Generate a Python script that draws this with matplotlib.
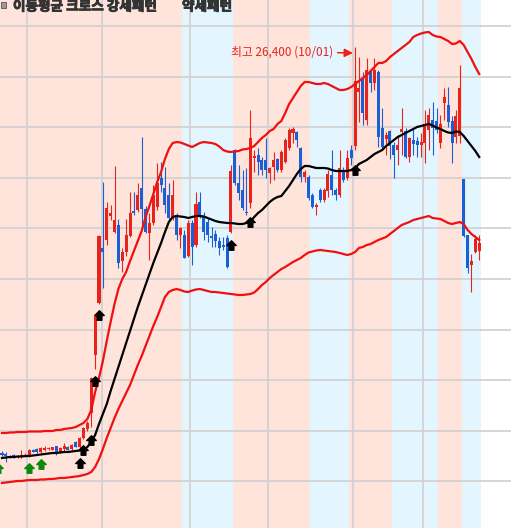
# =========================================================
# MOVING AVERAGE CROSS / BOLLINGER CANDLE CHART
# =========================================================

import numpy as np
import matplotlib
matplotlib.use("Agg")
import matplotlib.pyplot as plt
import matplotlib.patheffects as pe
from matplotlib.path import Path
from matplotlib.patches import Rectangle

plt.rcParams['font.family'] = ['Noto Sans CJK KR', 'DejaVu Sans']

# =========================================================
# DATA (daily candles, won)
# =========================================================

opens = [
    10180, 10120, 10060, 10080, 10000, 10020, 10040, 10040, 10300, 10340,
    10200, 10300, 10320, 10300, 10440, 10180, 10320, 10420, 10340, 10620,
    10400, 10760, 11120, 11760, 14080, 16160, 18360, 18680, 19640, 19000,
    19280, 17840, 18200, 18840, 19840, 19880, 20760, 19920, 18960, 19360,
    20000, 21160, 20760, 20480, 19600, 19680, 18880, 18880, 18040, 19360,
    18480, 20200, 19600, 19400, 18840, 18920, 18640, 18480, 18760, 19000,
    22280, 20960, 20680, 19800, 20160, 21960, 22080, 21880, 21880, 21360,
    21600, 21920, 21480, 21800, 22360, 22960, 23000, 22360, 21200, 21200,
    20480, 20000, 20680, 20280, 20640, 21280, 20680, 20480, 21440, 21160,
    22280, 22440, 24600, 25120, 23480, 25440, 24960, 25400, 23160, 22720,
    23040, 22480, 22280, 23000, 23040, 22000, 22680, 22640, 22480, 22560,
    23080, 23480, 23440, 22560, 24160, 24080, 23440, 22800, 22840, 21120,
    18880, 17680, 18200, 18240,
]

closes = [
    10100, 10040, 9980, 10000, 10040, 10080, 10100, 10280, 10220, 10200,
    10360, 10360, 10360, 10400, 10180, 10380, 10440, 10300, 10480, 10420,
    10780, 11180, 11380, 13160, 15640, 18840, 18200, 19960, 19760, 19480,
    17760, 18200, 18880, 19760, 19760, 20480, 19920, 19000, 19360, 20480,
    20960, 20880, 20080, 19560, 20480, 18880, 19160, 17960, 19360, 18400,
    20120, 19600, 19000, 18880, 18760, 18640, 18360, 18400, 17600, 21440,
    20960, 20560, 19960, 19760, 22760, 22040, 21800, 21480, 21480, 21560,
    21880, 21480, 22200, 22680, 23080, 23120, 22680, 21200, 21400, 20360,
    20000, 20080, 20280, 20680, 21320, 20680, 20480, 21560, 21080, 21960,
    21960, 25040, 24760, 23760, 25480, 24960, 25480, 22800, 22400, 22880,
    22440, 22080, 22480, 23120, 22000, 22760, 22520, 22480, 22600, 23320,
    23680, 23160, 23080, 23320, 24400, 23400, 22560, 23640, 24760, 18840,
    17560, 17840, 18720, 18560,
]

highs = [
    10240, 10200, 10080, 10120, 10080, 10280, 10160, 10320, 10320, 10360,
    10420, 10460, 10400, 10420, 10460, 10400, 10580, 10440, 10520, 10640,
    10800, 11220, 11460, 13200, 15680, 18880, 21000, 20200, 20080, 21640,
    19520, 18360, 19520, 20600, 20600, 20960, 22800, 20040, 19760, 20880,
    21760, 21800, 21600, 20960, 21080, 19760, 19200, 19080, 19480, 19480,
    20600, 20600, 19800, 19560, 19200, 19080, 18800, 18800, 18880, 21680,
    22320, 21680, 21480, 21560, 23880, 22280, 22360, 22000, 22760, 21600,
    22200, 21960, 22280, 22760, 23160, 23200, 23040, 22400, 21480, 21280,
    20560, 20160, 20760, 20760, 21480, 22280, 20760, 22280, 21600, 22280,
    22480, 26400, 26000, 25400, 25960, 25480, 25960, 25480, 23960, 23000,
    23080, 22600, 22880, 23960, 23160, 22800, 23120, 22800, 22960, 23880,
    23960, 24200, 23960, 23680, 24760, 24800, 23640, 23880, 25680, 21120,
    18880, 18120, 18880, 18880,
]

lows = [
    10060, 9800, 9960, 9960, 9960, 9980, 10000, 10000, 10200, 10180,
    10160, 10260, 10300, 10280, 10080, 10160, 10260, 10280, 10300, 10400,
    10380, 10720, 11060, 11200, 13520, 16120, 16760, 18480, 19480, 18960,
    17560, 17400, 18040, 18800, 19680, 19800, 19200, 18960, 17880, 19280,
    19880, 20600, 19760, 19480, 19480, 18680, 18360, 17960, 18000, 17680,
    18400, 19560, 18680, 18600, 18400, 18400, 18080, 18280, 17560, 18960,
    20880, 20280, 19880, 19680, 19960, 21400, 21280, 21280, 21160, 20960,
    21080, 21400, 21400, 21760, 22280, 22560, 22400, 21000, 21000, 20280,
    19960, 19680, 20200, 20200, 20400, 20480, 20280, 20400, 21000, 21080,
    21680, 22280, 23400, 23280, 23280, 24600, 24680, 22400, 22280, 22080,
    21920, 21160, 21680, 22080, 21960, 21800, 22080, 22000, 22000, 21760,
    22280, 22080, 22960, 22360, 23480, 23200, 21760, 22560, 22560, 18800,
    17360, 16600, 18160, 17880,
]

# Bollinger band (upper / moving average / lower)
bb_upper = [
    10960, 10960, 10980, 10980, 11000, 11000, 11000, 11020, 11020, 11020,
    11020, 11040, 11040, 11040, 11080, 11080, 11120, 11140, 11160, 11200,
    11280, 11360, 11520, 11880, 12600, 13160, 13840, 14640, 15400, 16120,
    16720, 17120, 17400, 17840, 18240, 18640, 19040, 19600, 20040, 20520,
    21000, 21400, 21920, 22320, 22560, 22600, 22580, 22520, 22460, 22400,
    22480, 22560, 22600, 22580, 22560, 22520, 22420, 22280, 22220, 22200,
    22220, 22240, 22300, 22320, 22360, 22440, 22600, 22760, 22880, 23040,
    23120, 23320, 23440, 23760, 24120, 24360, 24600, 24840, 25000, 25000,
    24960, 24920, 24920, 24960, 24920, 24840, 24760, 24680, 24680, 24720,
    24800, 24920, 25040, 25160, 25280, 25440, 25600, 25760, 25760, 25840,
    26000, 26120, 26240, 26360, 26480, 26600, 26800, 26880, 26940, 26980,
    27000, 26880, 26820, 26800, 26720, 26640, 26520, 26540, 26640, 26480,
    26200, 25920, 25600, 25320,
]

bb_mid = [
    9960, 9980, 10000, 10000, 10020, 10020, 10040, 10040, 10060, 10080,
    10100, 10120, 10140, 10160, 10160, 10180, 10200, 10200, 10220, 10240,
    10260, 10300, 10400, 10600, 10880, 11320, 11720, 12120, 12640, 13120,
    13600, 14080, 14560, 15040, 15520, 16000, 16440, 16880, 17320, 17760,
    18160, 18560, 19000, 19400, 19600, 19640, 19620, 19600, 19560, 19600,
    19640, 19640, 19620, 19560, 19500, 19440, 19400, 19380, 19360, 19360,
    19340, 19320, 19320, 19360, 19400, 19600, 19760, 19880, 20040, 20200,
    20320, 20400, 20440, 20640, 20840, 21080, 21320, 21520, 21640, 21640,
    21600, 21560, 21560, 21560, 21540, 21480, 21440, 21440, 21440, 21440,
    21480, 21560, 21720, 21800, 21880, 22000, 22120, 22200, 22280, 22440,
    22560, 22680, 22800, 22880, 22960, 23040, 23120, 23200, 23240, 23280,
    23320, 23260, 23180, 23120, 23040, 22980, 22960, 23020, 23000, 22840,
    22640, 22440, 22240, 22000,
]

bb_lower = [
    8960, 8980, 9000, 9020, 9040, 9040, 9060, 9080, 9080, 9080,
    9100, 9100, 9120, 9120, 9140, 9160, 9160, 9180, 9200, 9220,
    9240, 9280, 9320, 9400, 9600, 9920, 10320, 10760, 11160, 11560,
    11920, 12240, 12560, 12880, 13280, 13680, 14040, 14440, 14840, 15240,
    15600, 16000, 16400, 16600, 16680, 16720, 16680, 16620, 16600, 16660,
    16700, 16720, 16680, 16640, 16600, 16600, 16580, 16560, 16540, 16520,
    16500, 16480, 16480, 16500, 16520, 16580, 16720, 16880, 17000, 17160,
    17280, 17400, 17520, 17600, 17700, 17800, 17880, 17960, 18080, 18180,
    18220, 18260, 18280, 18260, 18240, 18220, 18200, 18160, 18120, 18080,
    18120, 18200, 18360, 18400, 18480, 18520, 18600, 18680, 18740, 18800,
    18920, 19040, 19160, 19280, 19340, 19400, 19480, 19520, 19560, 19600,
    19640, 19560, 19540, 19520, 19440, 19360, 19320, 19360, 19400, 19320,
    19080, 18920, 18800, 18680,
]

# pattern zones (candle index edges) : bull = 강세, bear = 약세
zone_edges = [-1, 46.5, 59.5, 79.5, 89.5, 100.5, 112.5, 118.5, 123.5]
zone_kinds = ['bull', 'bear', 'bull', 'bear', 'bull', 'bear', 'bull', 'bear']

# moving average cross signals
cross_idx = [20, 21, 23, 24, 25, 59, 64, 91]
cross_val = [9770, 10280, 10680, 13040, 15680, 18480, 19400, 21480]
green_idx = [-1, 7, 10]
green_val = [9560, 9560, 9720]

# month boundaries and price grid
month_lines = [6.45, 25.65, 48.5, 68.55, 90.5, 108.5]
price_grid = [27240, 25216, 23192, 21168, 19144, 17120, 15096, 13072, 11048, 9024]

# =========================================================
# COLORS
# =========================================================

UP = '#E8231B'
DOWN = '#1C5FD4'
BAND = '#F01010'
PINK = '#FFE4DC'
SKY = '#E3F6FF'
GRID = '#D2D2D2'

# =========================================================
# FIGURE
# =========================================================

fig = plt.figure(figsize=(5.11, 5.28), dpi=100)
ax = fig.add_axes([0, 0, 1, 1])
ax.set_facecolor('white')

x = np.arange(len(opens))
o = np.array(opens)
c = np.array(closes)
h = np.array(highs)
l = np.array(lows)

# background zones
for k in range(len(zone_kinds)):
    ax.axvspan(zone_edges[k], zone_edges[k + 1],
               color=PINK if zone_kinds[k] == 'bull' else SKY,
               lw=0, zorder=0)

# grid
ax.set_xticks(month_lines)
ax.set_yticks(price_grid)
ax.grid(True, color=GRID, lw=1.3, zorder=1)
ax.set_axisbelow(True)
ax.tick_params(length=0, labelleft=False, labelbottom=False)
for s in ax.spines.values():
    s.set_visible(False)

# candles
up = c >= o
cols = np.where(up, UP, DOWN)
ax.vlines(x, l, h, colors=cols, lw=0.8, zorder=3)
body_lo = np.minimum(o, c)
body_h = np.maximum(np.abs(c - o), 40)
ax.bar(x, body_h, bottom=body_lo, width=0.78, color=cols, lw=0, zorder=3)

# bollinger bands
ax.plot(x, bb_upper, color=BAND, lw=1.6, zorder=4)
ax.plot(x, bb_lower, color=BAND, lw=1.6, zorder=4)
ax.plot(x, bb_mid, color='black', lw=1.6, zorder=4)

# signal arrows
arrow = Path([(0, 1), (1, 0), (0.5, 0), (0.5, -1), (-0.5, -1), (-0.5, 0), (-1, 0), (0, 1)],
             [Path.MOVETO] + [Path.LINETO] * 6 + [Path.CLOSEPOLY])
ax.plot(cross_idx, cross_val, ls='none', marker=arrow, ms=6.8,
        color='black', zorder=5)
ax.plot(green_idx, green_val, ls='none', marker=arrow, ms=6.8,
        color='#0A8A0A', zorder=5)

# highest price note
hi_i = int(np.argmax(h))
ax.annotate('최고 26,400 (10/01)', xy=(hi_i - 0.55, h[hi_i] - 240),
            xytext=(-14, 1), textcoords='offset points',
            ha='right', va='center', fontsize=8.5, color=UP,
            arrowprops=dict(arrowstyle='-|>,head_length=0.5,head_width=0.25',
                            color=UP, lw=1.1, shrinkA=1, shrinkB=0,
                            mutation_scale=10),
            zorder=6)

ax.set_xlim(-0.515, 131.19)
ax.set_ylim(7160, 28280)

# =========================================================
# TITLE / LEGEND TEXT
# =========================================================

fig.patches.append(Rectangle((1 / 511, 1 - 7.5 / 528), 4.5 / 511, 5.5 / 528,
                             transform=fig.transFigure, fc='#9A9A9A',
                             ec='#555555', lw=0.6))
bold = [pe.withStroke(linewidth=0.7, foreground='#333333')]
fig.text(13 / 511, 1 - 10.5 / 528, '이동평균 크로스 강세패턴',
         fontsize=9.8, fontweight='bold', color='#333333', va='baseline',
         path_effects=bold)
fig.text(182 / 511, 1 - 10.5 / 528, '약세패턴',
         fontsize=9.8, fontweight='bold', color='#333333', va='baseline',
         path_effects=bold)

fig.savefig('out.png', dpi=100)
